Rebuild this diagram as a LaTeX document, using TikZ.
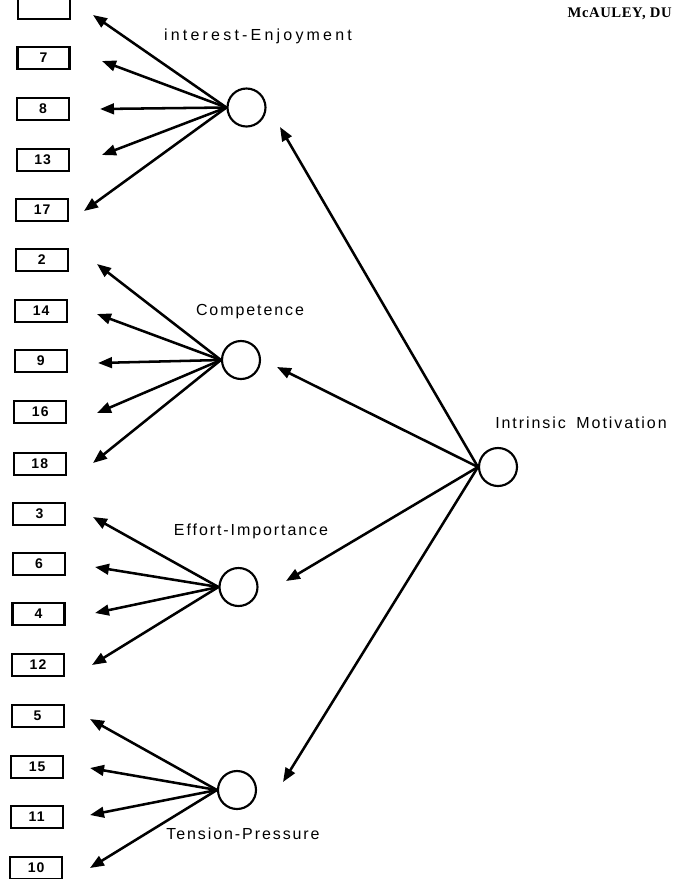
\documentclass[tikz,border=0pt]{standalone}
\usepackage{fontspec}
\setmainfont{Liberation Sans}
\newfontfamily\lblfont[LetterSpace=12]{Liberation Sans}
\newfontfamily\widelblfont[LetterSpace=20]{Liberation Sans}
\newfontfamily\numfont[LetterSpace=8]{Liberation Sans}
\newfontfamily\headfont[LetterSpace=4]{Liberation Serif}
\usetikzlibrary{arrows.meta}
\tikzset{
  itembox/.style={draw, line width=1.6pt, minimum width=39pt, minimum height=17pt, inner sep=0pt,
    font=\numfont\fontsize{10.5}{12}\selectfont\bfseries},
  factor/.style={circle, draw, line width=1.6pt, minimum size=28.5pt, inner sep=0pt},
  link/.style={line width=1.9pt, -{Triangle[length=10.5pt,width=8pt]}},
  lbl/.style={inner sep=0pt, font=\lblfont\fontsize{12}{14}\selectfont},
  head/.style={inner sep=0pt, font=\headfont\fontsize{11}{13}\selectfont\bfseries}
}
\begin{document}
\begin{tikzpicture}[x=0.75pt,y=-0.75pt]
\useasboundingbox (0,0) rectangle (672,879);
\begin{scope}
\clip (0,0) rectangle (672,879);
% item boxes
\node[itembox] (b1)  at (44.0,8)   {};
\node[itembox] (b7)  at (43.5,58)  {7};
\node[itembox] (b8)  at (43.0,109) {8};
\node[itembox] (b13) at (42.6,160) {13};
\node[itembox] (b17) at (42.1,210) {17};
\node[itembox] (b2)  at (41.7,260) {2};
\node[itembox] (b14) at (41.2,311) {14};
\node[itembox] (b9)  at (40.8,361) {9};
\node[itembox] (b16) at (40.3,412) {16};
\node[itembox] (b18) at (39.8,464) {18};
\node[itembox] (b3)  at (39.4,514) {3};
\node[itembox] (b6)  at (38.9,564) {6};
\node[itembox] (b4)  at (38.5,614) {4};
\node[itembox] (b12) at (38.0,665) {12};
\node[itembox] (b5)  at (37.6,716) {5};
\node[itembox] (b15) at (37.1,767) {15};
\node[itembox] (b11) at (36.6,817) {11};
\node[itembox] (b10) at (36.2,868) {10};
% factor circles
\node[factor] (ie) at (246.5,107.5) {};
\node[factor] (co) at (241,360) {};
\node[factor] (ei) at (238.5,587) {};
\node[factor] (tp) at (237,790) {};
\node[factor] (im) at (498,467) {};
% labels
\node[lbl, font=\widelblfont\fontsize{12}{14}\selectfont] (lie) at (258,36) {interest-Enjoyment};
\node[lbl] (lco) at (250,312) {Competence};
\node[lbl] (lei) at (251,531) {Effort-Importance};
\node[lbl] (ltp) at (243,834) {Tension-Pressure};
\node[lbl] (lim) at (581,423) {Intrinsic\hspace{8pt}Motivation};
\node[head, anchor=east] (hd) at (672,14) {McAULEY, DU};
% arrow tip coordinates
\coordinate (t1)  at (93,15);
\coordinate (t7)  at (102,61);
\coordinate (t8)  at (100,109);
\coordinate (t13) at (102,155);
\coordinate (t17) at (84,211);
\coordinate (t2)  at (97,264);
\coordinate (t14) at (97,314);
\coordinate (t9)  at (98,363);
\coordinate (t16) at (97,413);
\coordinate (t18) at (93,463);
\coordinate (t3)  at (93,517);
\coordinate (t6)  at (95,567);
\coordinate (t4)  at (95,613);
\coordinate (t12) at (92,665);
\coordinate (t5)  at (90,719);
\coordinate (t15) at (90,768);
\coordinate (t11) at (90,815);
\coordinate (t10) at (90,868);
\coordinate (tie) at (280,127);
\coordinate (tco) at (277,367);
\coordinate (tei) at (286,581);
\coordinate (ttp) at (283,782);
% connectors
\foreach \t in {t1,t7,t8,t13,t17} \draw[link] (ie.west) -- (\t);
\foreach \t in {t2,t14,t9,t16,t18} \draw[link] (co.west) -- (\t);
\foreach \t in {t3,t6,t4,t12} \draw[link] (ei.west) -- (\t);
\foreach \t in {t5,t15,t11,t10} \draw[link] (tp.west) -- (\t);
\foreach \t in {tie,tco,tei,ttp} \draw[link] (im.west) -- (\t);
\end{scope}
\end{tikzpicture}
\end{document}
